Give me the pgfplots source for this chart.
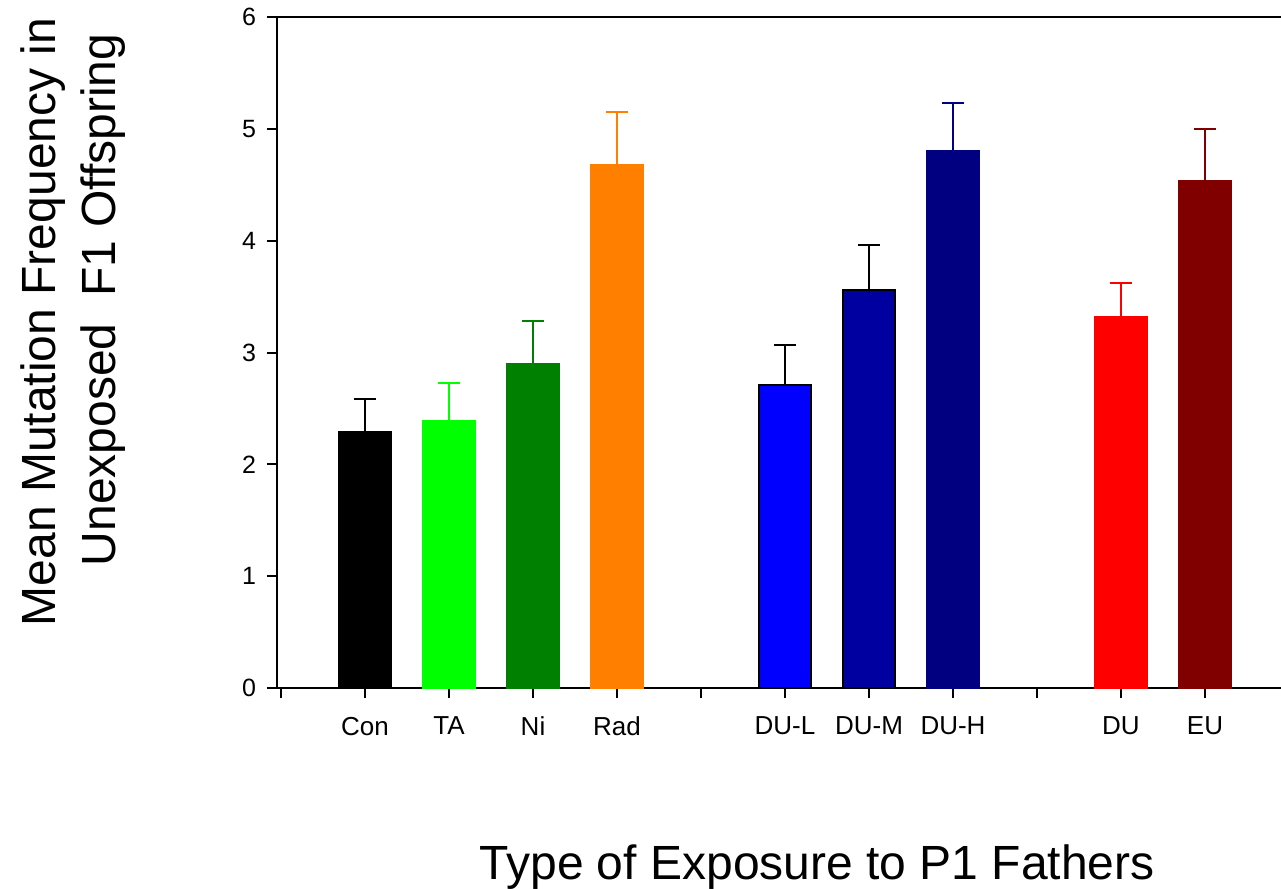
\documentclass[border=0pt]{standalone}
\usepackage{pgfplots}
\pgfplotsset{compat=1.18}
\usepackage{fontspec}
\setmainfont{Liberation Sans}
\definecolor{cTA}{HTML}{00FF00}
\definecolor{cNi}{HTML}{008000}
\definecolor{cRad}{HTML}{FF8000}
\definecolor{cDUL}{HTML}{0000FF}
\definecolor{cDUM}{HTML}{0000A0}
\definecolor{cDUH}{HTML}{000080}
\definecolor{cDU}{HTML}{FF0000}
\definecolor{cEU}{HTML}{800000}
\pgfplotsset{
  mybar/.style 2 args={
    ybar, bar width=26pt, bar shift=0pt, fill=#1, draw=#2, line width=0.75pt,
    error bars/y dir=plus, error bars/y explicit,
    error bars/error bar style={line width=1pt, color=#2},
    error bars/error mark options={rotate=90, line width=1pt, mark size=5.5pt, color=#2}
  }
}
\begin{document}
\begin{tikzpicture}
\useasboundingbox (-138.5pt,-100.5pt) rectangle (502pt,344pt);
\begin{axis}[
  at={(0pt,0pt)}, anchor=south west,
  scale only axis, width=502pt, height=335.5pt,
  xmin=-0.048, xmax=11.905, ymin=0, ymax=6,
  axis x line*=bottom, axis y line*=left,
  axis line style={line width=1pt, -},
  xtick={0,...,11},
  xticklabels={,Con,TA,Ni,Rad,,DU-L,DU-M,DU-H,,DU,EU},
  ytick={0,...,6},
  tick align=outside, major tick length=5pt,
  tick style={line width=1pt, black},
  xticklabel style={font=\fontsize{13}{15}\selectfont, yshift=-6pt},
  yticklabel style={font=\fontsize{12.5}{14}\selectfont, xshift=-2pt},
  /pgf/number format/assume math mode=true,
  xlabel={Type of Exposure to P1 Fathers},
  xlabel style={font=\fontsize{24}{28}\selectfont, at={(axis description cs:0.538,-0.2861)}, anchor=base},
  ylabel={Mean Mutation Frequency in\\\hspace*{22pt}Unexposed\ \ F1 Offspring},
  ylabel style={font=\fontsize{24}{30}\selectfont, align=center, at={(axis description cs:-0.203,0.5455)}, anchor=center},
  clip=false,
]
\addplot[mybar={black}{black}] coordinates {(1,2.29) +- (0,0.29)};
\addplot[mybar={cTA}{cTA}] coordinates {(2,2.39) +- (0,0.34)};
\addplot[mybar={cNi}{cNi}] coordinates {(3,2.90) +- (0,0.38)};
\addplot[mybar={cRad}{cRad}] coordinates {(4,4.68) +- (0,0.47)};
\addplot[mybar={cDUL}{black}] coordinates {(6,2.71) +- (0,0.36)};
\addplot[mybar={cDUM}{black}] coordinates {(7,3.56) +- (0,0.40)};
\addplot[mybar={cDUH}{cDUH}] coordinates {(8,4.80) +- (0,0.43)};
\addplot[mybar={cDU}{cDU}] coordinates {(10,3.32) +- (0,0.30)};
\addplot[mybar={cEU}{cEU}] coordinates {(11,4.54) +- (0,0.46)};
\draw[line width=1pt] (rel axis cs:0,1) -- (rel axis cs:1,1);
\end{axis}
\end{tikzpicture}
\end{document}
